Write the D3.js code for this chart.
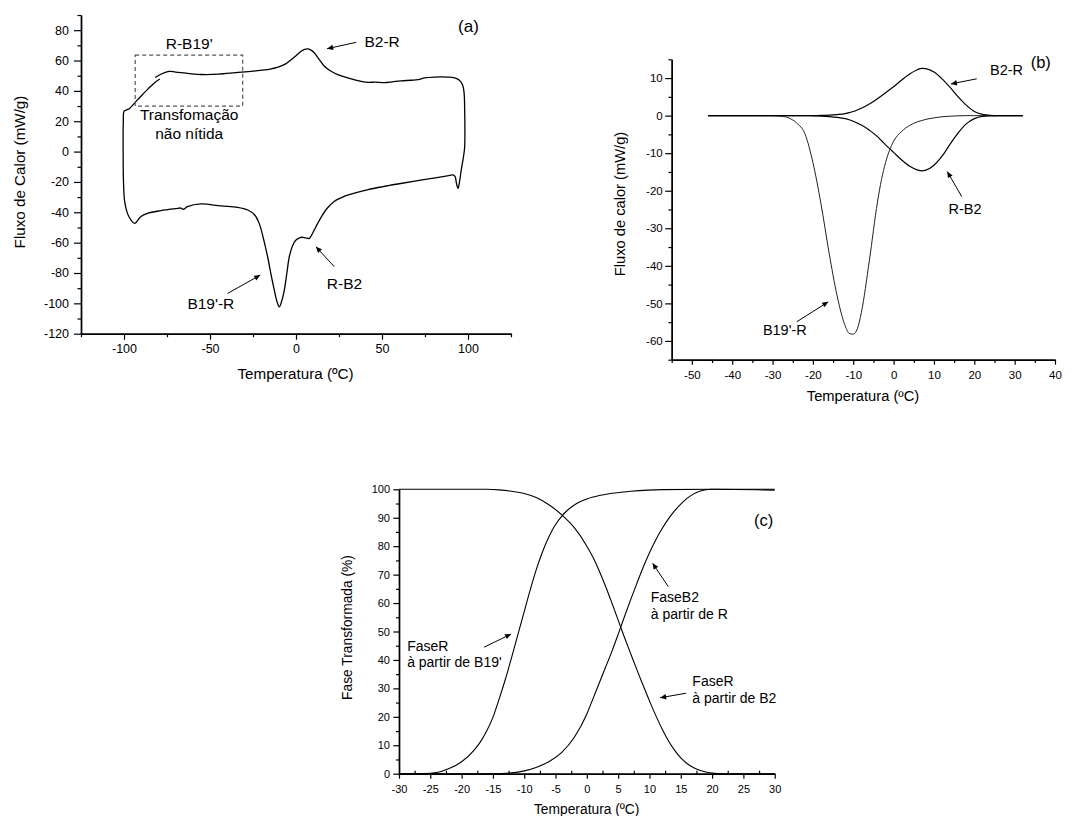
<!DOCTYPE html>
<html>
<head>
<meta charset="utf-8">
<script src="https://cdn.jsdelivr.net/npm/d3@7"></script>
<style>
  body { margin: 0; background: #fff; }
  svg { display: block; font-family: Arial, "Liberation Sans", sans-serif; }
</style>
</head>
<body>
<svg id="chart" width="1077" height="816"></svg>
<script>
// ---------------- DATA ----------------
// Panel (a): DSC loop, drawn in path order
const loopTemp = [-81.9,-78,-73.8,-70,-62,-55,-45,-35,-25,-15,-10,-6,-3,0,3,5,6.8,8.5,10.7,13.6,16.5,20.4,24.3,30.1,37.9,42,46,51.5,56,61.2,67,71,74.8,80.6,88,92.2,95,96.8,97.7,98.1,98.2,98,97,96.1,95.2,94.2,93.3,92.5,91.3,88,80,70,60,50,42,35,28,22,18,15,12.6,10,7.7,5.5,2.9,0,-2,-3.9,-5.3,-6.8,-8.3,-9.7,-11,-12.6,-14.5,-16.5,-19,-21.4,-24,-28,-34,-43.7,-55.3,-63.1,-65.5,-67,-70,-78.6,-86.4,-90.3,-93.8,-96,-98,-99.6,-100.3,-100.5,-100.4,-100,-98.5,-97,-94,-90.3,-86,-82.5,-79.2];
const loopFlow = [48.8,51.3,52.8,52.4,51.4,50.8,51.0,52.0,53.0,54.4,55.8,57.8,60.4,63.2,66.1,67.3,67.7,67.0,65.0,60.6,56.2,52.9,50.7,48.5,46.3,45.6,45.8,45.4,46,46.6,47,47.4,48.5,49.1,49.1,48.6,47,44,39,25,12,2,-6,-12,-19,-24.2,-21,-16.5,-15.4,-16,-17.5,-19.3,-21.2,-23.2,-25,-27,-29.5,-33,-37.5,-42.5,-47.3,-53,-57.2,-56.8,-56.5,-58.3,-62,-69.3,-80,-91.3,-98.5,-102.3,-99,-91.3,-81,-69.3,-57,-47.3,-41.8,-38.5,-36.7,-35.8,-34.5,-36.3,-38,-37.2,-37.6,-38.9,-40.7,-42.9,-47.3,-45,-40.7,-33,-20,0,20,26.5,27.5,28.2,31.8,36.3,41.3,45.1,47.8];
const aXMajor = [-100,-50,0,50,100];
const aXMinor = [-125,-75,-25,25,75,125];
const aYMajor = [-120,-100,-80,-60,-40,-20,0,20,40,60,80];
const aYMinor = [-110,-90,-70,-50,-30,-10,10,30,50,70,90];
const aBox = [[-93.5,-31],[30,63.5]];

// Panel (b): deconvoluted peaks
const bTemp   = [-46,-40,-34,-30,-28,-26,-24,-22,-20,-18,-16,-14,-12,-11,-10,-9,-8,-6,-4,-3,-2,-1,0,2,4,6,7,8,10,12,14,16,18,20,22,24,26,32];
const bB2R    = [0,0,0,0,0,0,0,0,0.02,0.05,0.12,0.28,0.55,0.8,1.1,1.5,1.95,3.1,4.5,5.3,6.1,6.9,7.7,9.5,11.1,12.3,12.6,12.5,11.6,9.8,7.5,5.0,2.8,1.1,0.35,0.08,0.01,0];
const bRB2    = [0,0,0,0,0,0,0,0,-0.05,-0.12,-0.25,-0.45,-0.8,-1.1,-1.5,-2.0,-2.5,-3.9,-5.6,-6.7,-7.8,-8.8,-9.8,-11.8,-13.5,-14.5,-14.7,-14.5,-13.2,-10.8,-7.6,-4.6,-2.2,-0.8,-0.2,-0.05,0,0];
const bB19R   = [0,0,0,-0.02,-0.15,-0.6,-2.0,-4.8,-12.5,-23.5,-36.5,-48,-56,-58,-58.2,-56.8,-52.5,-38.5,-23,-17,-12.5,-9.2,-6.8,-4.2,-2.6,-1.6,-1.3,-1.0,-0.6,-0.3,-0.15,-0.05,0,0,0,0,0,0];
const bXMajor = [-50,-40,-30,-20,-10,0,10,20,30,40];
const bXMinor = [-55,-45,-35,-25,-15,-5,5,15,25,35];
const bYMajor = [-60,-50,-40,-30,-20,-10,0,10];
const bYMinor = [-65,-55,-45,-35,-25,-15,-5,5,15];

// Panel (c): transformed fraction
const cTempB19 = [-30,-26,-24,-22,-20,-18,-17,-16,-15,-14,-13,-12,-11,-10,-9,-8,-7,-6,-5,-4,-3,-2,-1,0,2,4,7,12,20,30];
const cFracB19 = [0,0.05,0.4,1.8,4.2,8.3,11.2,15,19.8,26.3,33.3,41,49,57,65,72.3,78.5,83.6,87.6,90.6,92.8,94.5,95.7,96.6,97.8,98.6,99.3,99.9,100,100];
const cTempB2  = [-30,-15,-12,-10,-8,-6,-4,-2,0,1,2,3,4,5,6,7,8,9,10,11,12,13,14,15,16,17,18,20,30];
const cFracB2  = [0,0,0.3,1.0,2.3,4.3,7.5,12.8,21,26.5,32,37.5,43,49,55.2,61.2,67,72.6,77.7,82.2,86.1,89.5,92.4,94.8,96.8,98.3,99.3,100,99.7];
const cTempRB2 = [-30,-16,-14,-12,-10,-8,-6,-4,-2,0,1,2,3,4,5,6,7,8,9,10,11,12,13,14,15,16,17,18,19,20,22,30];
const cFracRB2 = [100,100,99.8,99.3,98.5,97,94.5,91,86.5,80,76,71.2,65.8,60,54,48,42.2,36.5,31,25.6,20.5,15.8,11.7,8.3,5.6,3.6,2.2,1.2,0.6,0.2,0,0];
const cXMajor = [-30,-25,-20,-15,-10,-5,0,5,10,15,20,25,30];
const cXMinor = [-27.5,-22.5,-17.5,-12.5,-7.5,-2.5,2.5,7.5,12.5,17.5,22.5,27.5];
const cYMajor = [0,10,20,30,40,50,60,70,80,90,100];
const cYMinor = [5,15,25,35,45,55,65,75,85,95];

// Annotations (data coordinates)
const aLabels = [
  {t:"(a)", x:94.2, y:78.5, anchor:"start", size:17},
  {t:"B2-R", x:39.8, y:68.6, anchor:"start", size:15.5},
  {t:"R-B19'", x:-62.1, y:67.6, anchor:"middle", size:15.5},
  {t:"Transfomação", x:-62.1, y:20.9, anchor:"middle", size:15.5},
  {t:"não nítida", x:-62.1, y:8.2, anchor:"middle", size:15.5},
  {t:"B19'-R", x:-49.5, y:-104, anchor:"middle", size:15.5},
  {t:"R-B2", x:28.2, y:-90.4, anchor:"middle", size:15.5}
];
const aArrows = [[35,72,18.1,67.8],[-39.8,-93.5,-20.8,-81.4],[22.3,-75.9,11.6,-62.7]];
const bLabels = [
  {t:"(b)", x:33.97, y:12.8, anchor:"start", size:16.5},
  {t:"B2-R", x:23.9, y:10.85, anchor:"start", size:14.5},
  {t:"R-B2", x:13.6, y:-26.2, anchor:"start", size:14.5},
  {t:"B19'-R", x:-32.4, y:-58.5, anchor:"start", size:14.5}
];
const bArrows = [[20.6,9.8,14.2,8.45],[16.9,-21.6,13.3,-14.9],[-24,-54.9,-16.2,-49.6]];
const cLabels = [
  {t:"(c)", x:26.7, y:87.2, anchor:"start", size:16.5},
  {t:"FaseR", x:-28.7, y:43.3, anchor:"start", size:14},
  {t:"à partir de B19'", x:-28.7, y:37.4, anchor:"start", size:14},
  {t:"FaseB2", x:10.2, y:60.2, anchor:"start", size:14},
  {t:"à partir de R", x:10.2, y:54.3, anchor:"start", size:14},
  {t:"FaseR", x:16.85, y:30.8, anchor:"start", size:14},
  {t:"à partir de B2", x:16.85, y:25, anchor:"start", size:14}
];
const cArrows = [[-16.4,44.5,-12.1,49.1],[13,65.8,10.5,74],[15.85,28.3,11.7,26.7]];

// ---------------- DRAWING ----------------
const svg = d3.select("#chart");
svg.append("rect").attr("width",1077).attr("height",816).attr("fill","#fff");
const defs = svg.append("defs");
defs.append("marker").attr("id","arr").attr("viewBox","0 0 10 10")
  .attr("refX",10).attr("refY",5).attr("markerWidth",9).attr("markerHeight",6)
  .attr("markerUnits","userSpaceOnUse").attr("orient","auto")
  .append("path").attr("d","M0,0.5 L10,5 L0,9.5 Z").attr("fill","#000");

function axes(g, x, y, o) {
  const fmt = d => String(d);
  const y0 = y.range()[0], x0 = x.range()[0];
  const gx = g.append("g").attr("transform",`translate(0,${y0})`)
    .call(d3.axisBottom(x).tickValues(o.xMajor).tickSize(o.tl).tickPadding(o.xpad).tickSizeOuter(0).tickFormat(fmt));
  const gxm = g.append("g").attr("transform",`translate(0,${y0})`)
    .call(d3.axisBottom(x).tickValues(o.xMinor).tickSize(o.tm).tickSizeOuter(0).tickFormat(""));
  if (o.minorInward) gxm.selectAll(".tick line").attr("y2",-o.tm);
  const gy = g.append("g").attr("transform",`translate(${x0},0)`)
    .call(d3.axisLeft(y).tickValues(o.yMajor).tickSize(o.tly).tickPadding(o.ypad).tickSizeOuter(0).tickFormat(fmt));
  const gym = g.append("g").attr("transform",`translate(${x0},0)`)
    .call(d3.axisLeft(y).tickValues(o.yMinor).tickSize(o.tm).tickSizeOuter(0).tickFormat(""));
  [gx,gxm,gy,gym].forEach(a => {
    a.select(".domain").attr("stroke","#000").attr("stroke-width",1.4);
    a.selectAll(".tick line").attr("stroke","#000").attr("stroke-width",1.2);
    a.selectAll(".tick text").attr("fill","#000").style("font-size",o.fs+"px")
      .style("font-family","Arial, 'Liberation Sans', sans-serif");
  });
}

function labels(g, x, y, list) {
  list.forEach(l => {
    g.append("text").attr("x",x(l.x)).attr("y",y(l.y)).attr("text-anchor",l.anchor)
      .style("font-size",l.size+"px").attr("fill","#000").text(l.t);
  });
}
function arrows(g, x, y, list) {
  list.forEach(a => {
    g.append("line").attr("x1",x(a[0])).attr("y1",y(a[1])).attr("x2",x(a[2])).attr("y2",y(a[3]))
      .attr("stroke","#000").attr("stroke-width",1).attr("marker-end","url(#arr)");
  });
}
function titles(g, xt, yt, fs) {
  g.append("text").attr("x",xt.x).attr("y",xt.y).attr("text-anchor","middle")
    .style("font-size",fs+"px").attr("fill","#000").text(xt.t);
  g.append("text").attr("transform",`translate(${yt.x},${yt.y}) rotate(-90)`)
    .attr("text-anchor","middle").attr("dy","0.35em")
    .style("font-size",fs+"px").attr("fill","#000").text(yt.t);
}

// ---- Panel (a)
{
  const g = svg.append("g");
  const x = d3.scaleLinear().domain([-125,125]).range([81,511]);
  const y = d3.scaleLinear().domain([-120,90]).range([333.7,15]);
  axes(g, x, y, {xMajor:aXMajor,xMinor:aXMinor,yMajor:aYMajor,yMinor:aYMinor,tl:6,tly:7,tm:3.5,xpad:4.5,ypad:5,fs:12.5});
  const pts = loopTemp.map((t,i)=>[t, loopFlow[i]]);
  g.append("path").datum(pts)
    .attr("d", d3.line().x(d=>x(d[0])).y(d=>y(d[1])).curve(d3.curveCatmullRom.alpha(0.5)))
    .attr("fill","none").attr("stroke","#000").attr("stroke-width",1.3);
  g.append("rect").attr("x",x(aBox[0][0])).attr("y",y(aBox[1][1]))
    .attr("width",x(aBox[0][1])-x(aBox[0][0])).attr("height",y(aBox[1][0])-y(aBox[1][1]))
    .attr("fill","none").attr("stroke","#555").attr("stroke-width",1.2).attr("stroke-dasharray","4,3");
  labels(g, x, y, aLabels);
  arrows(g, x, y, aArrows);
  titles(g, {t:"Temperatura (ºC)", x:295.5, y:379}, {t:"Fluxo de Calor (mW/g)", x:20, y:172}, 15.2);
}

// ---- Panel (b)
{
  const g = svg.append("g");
  const x = d3.scaleLinear().domain([-55,40]).range([671.7,1055]);
  const y = d3.scaleLinear().domain([-65,15]).range([359.7,59.3]);
  axes(g, x, y, {xMajor:bXMajor,xMinor:bXMinor,yMajor:bYMajor,yMinor:bYMinor,tl:5,tly:6.5,tm:3.3,xpad:6,ypad:2.5,fs:11.5});
  const line = d3.line().x(d=>x(d[0])).y(d=>y(d[1])).curve(d3.curveMonotoneX);
  [[bB19R,1.0,"#222"],[bRB2,1.2,"#000"],[bB2R,1.2,"#000"]].forEach(s => {
    g.append("path").datum(bTemp.map((t,i)=>[t,s[0][i]])).attr("d",line)
      .attr("fill","none").attr("stroke",s[2]).attr("stroke-width",s[1]);
  });
  labels(g, x, y, bLabels);
  arrows(g, x, y, bArrows);
  titles(g, {t:"Temperatura (ºC)", x:863, y:401}, {t:"Fluxo de calor (mW/g)", x:620, y:204}, 14.7);
}

// ---- Panel (c)
{
  const g = svg.append("g");
  const x = d3.scaleLinear().domain([-30,30]).range([399,774.7]);
  const y = d3.scaleLinear().domain([0,100]).range([773.7,489.3]);
  axes(g, x, y, {xMajor:cXMajor,xMinor:cXMinor,yMajor:cYMajor,yMinor:cYMinor,tl:5,tly:5.7,tm:3,xpad:6.5,ypad:3.3,fs:11,minorInward:true});
  const line = d3.line().x(d=>x(d[0])).y(d=>y(d[1])).curve(d3.curveMonotoneX);
  [[cTempB19,cFracB19],[cTempB2,cFracB2],[cTempRB2,cFracRB2]].forEach(s => {
    g.append("path").datum(s[0].map((t,i)=>[t,s[1][i]])).attr("d",line)
      .attr("fill","none").attr("stroke","#000").attr("stroke-width",1.1);
  });
  labels(g, x, y, cLabels);
  arrows(g, x, y, cArrows);
  titles(g, {t:"Temperatura (ºC)", x:586.7, y:814}, {t:"Fase Transformada (%)", x:346.7, y:627.5}, 13.8);
}
</script>
</body>
</html>
